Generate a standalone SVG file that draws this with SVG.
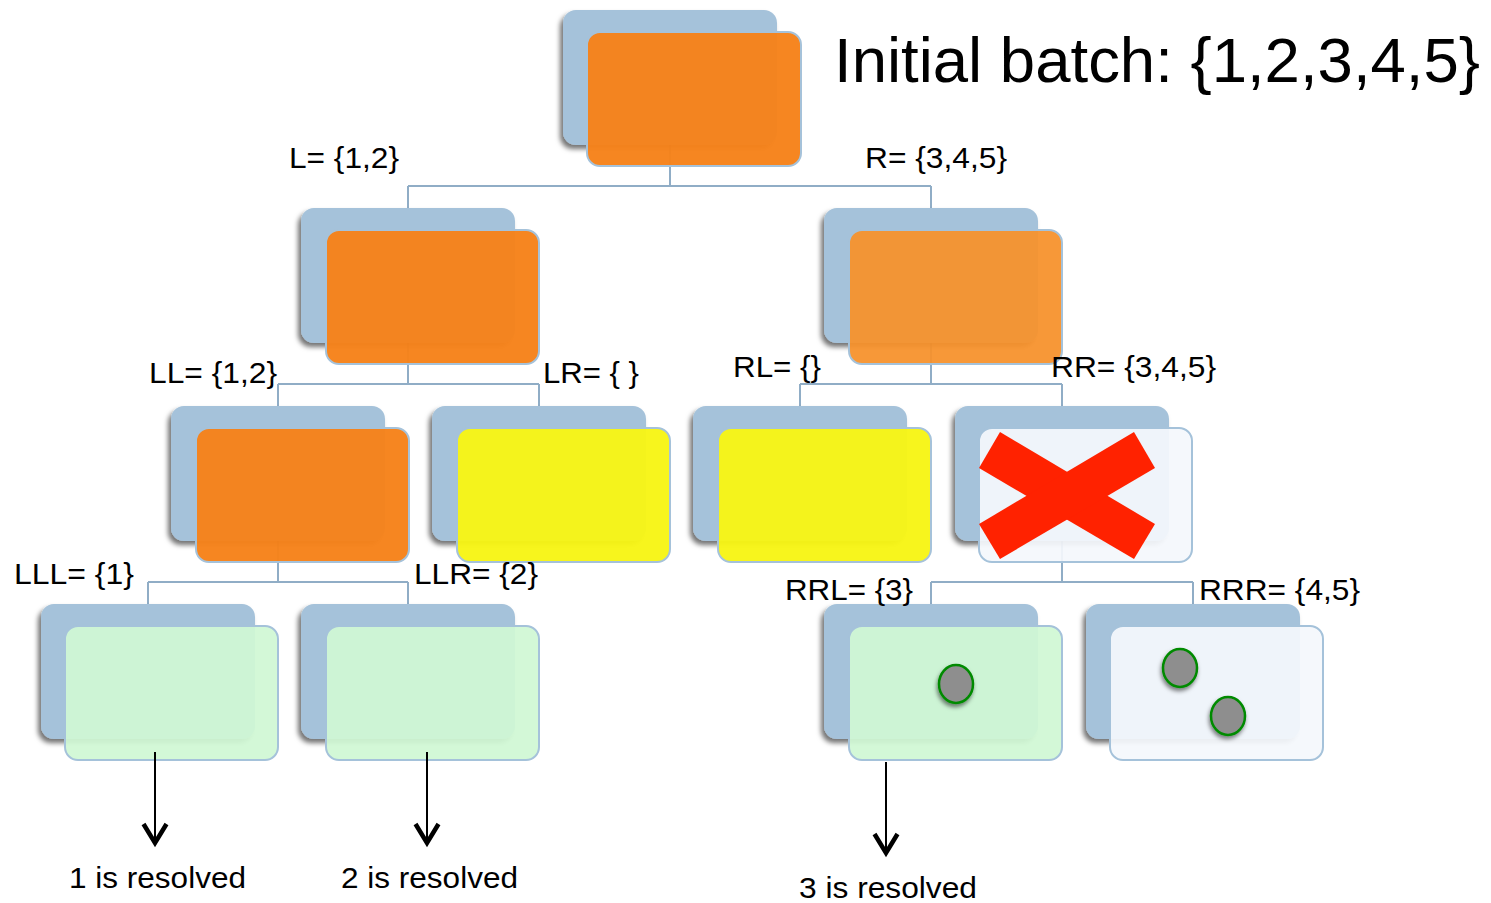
<svg xmlns="http://www.w3.org/2000/svg" width="1491" height="903" viewBox="0 0 1491 903">
<defs>
<style>
.back{fill:#A5C2DA;filter:url(#sh)}
.front{stroke:#A5C2DA;stroke-width:2}
.orange{fill:#F6821A;fill-opacity:0.97}
.orange2{fill:#F7922C;fill-opacity:0.94}
.yellow{fill:#F7F514;fill-opacity:0.96}
.green{fill:#D0F7D4;fill-opacity:0.93}
.pale{fill:#F4F8FC;fill-opacity:0.93}
.conn{fill:none;stroke:#90ADC6;stroke-width:2}
.lbl{font-family:"Liberation Sans",Arial,sans-serif;font-size:29px;fill:#000}
.title{font-family:"Liberation Sans",Arial,sans-serif;font-size:63px;fill:#000}
.arrow{fill:none;stroke:#000;stroke-width:2}
.dot{fill:#8E8E8E;stroke:#008A00;stroke-width:2.5;filter:url(#sh2)}
</style>
<filter id="sh" x="-10%" y="-10%" width="120%" height="125%">
<feDropShadow dx="-3" dy="4" stdDeviation="2.5" flood-color="#000" flood-opacity="0.55"/>
</filter>
<filter id="sh2" x="-30%" y="-30%" width="160%" height="170%">
<feDropShadow dx="-1" dy="3" stdDeviation="2" flood-color="#000" flood-opacity="0.5"/>
</filter>
<marker id="ah" markerUnits="userSpaceOnUse" markerWidth="34" markerHeight="34" viewBox="-26 -17 34 34" refX="0" refY="0" orient="auto">
<path d="M-19,-11.5 L0,0 L-19,11.5" fill="none" stroke="#000" stroke-width="4.5" stroke-linejoin="miter"/>
</marker>
</defs>
<rect width="1491" height="903" fill="#fff"/>

<g id="connectors">
<path class="conn" d="M670,145 V186 M408,186 H931 M408,186 V208 M931,186 V208"/>
<path class="conn" d="M408,343 V384 M278,384 H539 M278,384 V406 M539,384 V406"/>
<path class="conn" d="M931,343 V384 M800,384 H1062 M800,384 V406 M1062,384 V406"/>
<path class="conn" d="M278,541 V582 M148,582 H408 M148,582 V604 M408,582 V604"/>
<path class="conn" d="M1062,541 V582 M931,582 H1193 M931,582 V604 M1193,582 V604"/>
</g>

<g id="node-root">
<rect class="back" x="563" y="10" width="214" height="135" rx="13"/>
<rect class="front orange" x="587" y="32" width="214" height="134" rx="13"/>
</g>
<g id="node-L">
<rect class="back" x="301" y="208" width="214" height="135" rx="13"/>
<rect class="front orange" x="326" y="230" width="213" height="134" rx="13"/>
</g>
<g id="node-R">
<rect class="back" x="824" y="208" width="214" height="135" rx="13"/>
<rect class="front orange2" x="849" y="230" width="213" height="134" rx="13"/>
</g>
<g id="node-LL">
<rect class="back" x="171" y="406" width="214" height="135" rx="13"/>
<rect class="front orange" x="196" y="428" width="213" height="134" rx="13"/>
</g>
<g id="node-LR">
<rect class="back" x="432" y="406" width="214" height="135" rx="13"/>
<rect class="front yellow" x="457" y="428" width="213" height="134" rx="13"/>
</g>
<g id="node-RL">
<rect class="back" x="693" y="406" width="214" height="135" rx="13"/>
<rect class="front yellow" x="718" y="428" width="213" height="134" rx="13"/>
</g>
<g id="node-RR">
<rect class="back" x="955" y="406" width="214" height="135" rx="13"/>
<rect class="front pale" x="979" y="428" width="213" height="134" rx="13"/>
<polygon points="1000,432 1155,524 1134,559 979,468" fill="#FF2200"/>
<polygon points="979,524 1134,432 1155,468 1000,559" fill="#FF2200"/>
</g>
<g id="node-LLL">
<rect class="back" x="41" y="604" width="214" height="135" rx="13"/>
<rect class="front green" x="65" y="626" width="213" height="134" rx="13"/>
</g>
<g id="node-LLR">
<rect class="back" x="301" y="604" width="214" height="135" rx="13"/>
<rect class="front green" x="326" y="626" width="213" height="134" rx="13"/>
</g>
<g id="node-RRL">
<rect class="back" x="824" y="604" width="214" height="135" rx="13"/>
<rect class="front green" x="849" y="626" width="213" height="134" rx="13"/>
<ellipse class="dot" cx="956" cy="684" rx="17" ry="19"/>
</g>
<g id="node-RRR">
<rect class="back" x="1086" y="604" width="214" height="135" rx="13"/>
<rect class="front pale" x="1110" y="626" width="213" height="134" rx="13"/>
<ellipse class="dot" cx="1180" cy="668" rx="17" ry="19"/>
<ellipse class="dot" cx="1228" cy="716" rx="17" ry="19"/>
</g>

<g id="arrows">
<line class="arrow" x1="155" y1="752" x2="155" y2="843" marker-end="url(#ah)"/>
<line class="arrow" x1="427" y1="752" x2="427" y2="843" marker-end="url(#ah)"/>
<line class="arrow" x1="886" y1="762" x2="886" y2="853" marker-end="url(#ah)"/>
</g>

<g id="labels">
<text class="title" x="834" y="82" textLength="646" lengthAdjust="spacingAndGlyphs">Initial batch: {1,2,3,4,5}</text>
<text class="lbl" x="289" y="168" textLength="110" lengthAdjust="spacingAndGlyphs">L= {1,2}</text>
<text class="lbl" x="865" y="168" textLength="142" lengthAdjust="spacingAndGlyphs">R= {3,4,5}</text>
<text class="lbl" x="149" y="383" textLength="128" lengthAdjust="spacingAndGlyphs">LL= {1,2}</text>
<text class="lbl" x="543" y="383" textLength="96" lengthAdjust="spacingAndGlyphs">LR= { }</text>
<text class="lbl" x="733" y="377" textLength="88" lengthAdjust="spacingAndGlyphs">RL= {}</text>
<text class="lbl" x="1051" y="377" textLength="165" lengthAdjust="spacingAndGlyphs">RR= {3,4,5}</text>
<text class="lbl" x="14" y="584" textLength="120" lengthAdjust="spacingAndGlyphs">LLL= {1}</text>
<text class="lbl" x="414" y="584" textLength="124" lengthAdjust="spacingAndGlyphs">LLR= {2}</text>
<text class="lbl" x="785" y="600" textLength="128" lengthAdjust="spacingAndGlyphs">RRL= {3}</text>
<text class="lbl" x="1199" y="600" textLength="161" lengthAdjust="spacingAndGlyphs">RRR= {4,5}</text>
<text class="lbl" x="69" y="888" textLength="177" lengthAdjust="spacingAndGlyphs">1 is resolved</text>
<text class="lbl" x="341" y="888" textLength="177" lengthAdjust="spacingAndGlyphs">2 is resolved</text>
<text class="lbl" x="799" y="898" textLength="178" lengthAdjust="spacingAndGlyphs">3 is resolved</text>
</g>
</svg>
